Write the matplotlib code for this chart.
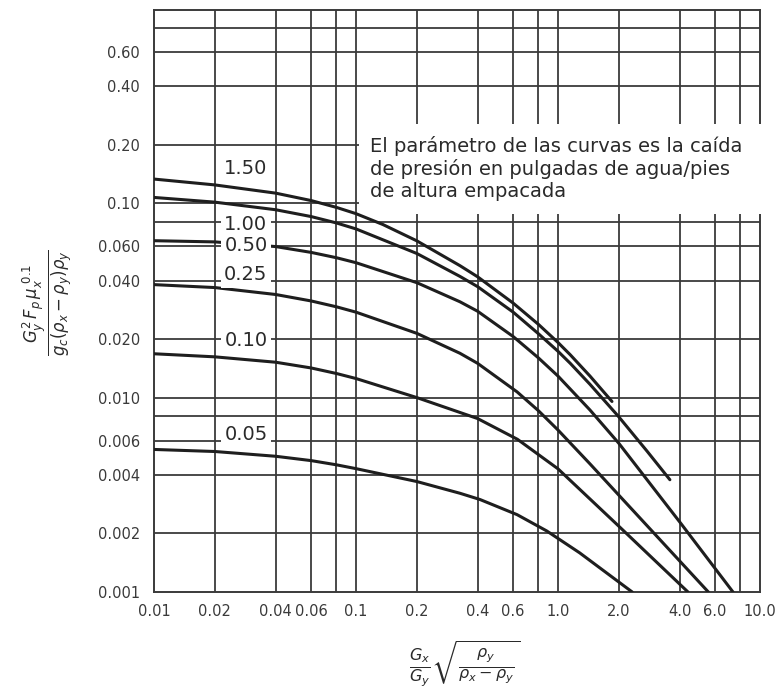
import matplotlib.pyplot as plt
from matplotlib.patches import Rectangle

# axis ticks / grid (log-log chart)
X_TICKS = [0.01, 0.02, 0.04, 0.06, 0.1, 0.2, 0.4, 0.6, 1.0, 2.0, 4.0, 6.0, 10.0]
X_TICK_LABELS = ["0.01", "0.02", "0.04", "0.06", "0.1", "0.2", "0.4", "0.6",
                 "1.0", "2.0", "4.0", "6.0", "10.0"]
X_GRID = [0.02, 0.04, 0.06, 0.08, 0.1, 0.2, 0.4, 0.6, 0.8, 1.0, 2.0, 4.0, 6.0, 8.0]

Y_TICKS = [0.001, 0.002, 0.004, 0.006, 0.01, 0.02, 0.04, 0.06, 0.1, 0.2, 0.4, 0.6]
Y_TICK_LABELS = ["0.001", "0.002", "0.004", "0.006", "0.010", "0.020", "0.040",
                 "0.060", "0.10", "0.20", "0.40", "0.60"]
Y_GRID = [0.002, 0.004, 0.006, 0.008, 0.01, 0.02, 0.04, 0.06, 0.08, 0.1,
          0.2, 0.4, 0.6, 0.8]

# curves (pressure drop, in. water / ft packing)
X_150 = [0.01, 0.02, 0.04, 0.06, 0.08, 0.1, 0.136, 0.2, 0.327, 0.4, 0.6, 0.8,
         1.0, 1.15, 1.44, 1.85]
Y_150 = [0.133, 0.1241, 0.1126, 0.1031, 0.0951, 0.0883, 0.0776, 0.0640,
         0.0477, 0.0418, 0.0306, 0.0238, 0.0192, 0.0166, 0.0129, 0.00955]

X_100 = [0.01, 0.02, 0.04, 0.06, 0.08, 0.1, 0.2, 0.327, 0.4, 0.6, 0.8, 1.0,
         1.15, 1.44, 2.0, 2.76, 3.58]
Y_100 = [0.107, 0.1012, 0.0925, 0.0853, 0.0791, 0.0737, 0.0551, 0.0420,
         0.0372, 0.0275, 0.0213, 0.0173, 0.0150, 0.0117, 0.00796, 0.0053,
         0.00378]

X_050 = [0.01, 0.02, 0.04, 0.06, 0.08, 0.1, 0.2, 0.327, 0.4, 0.6, 0.8, 1.0,
         1.44, 2.0, 4.06, 7.35]
Y_050 = [0.0641, 0.0632, 0.0598, 0.0558, 0.0524, 0.0494, 0.0390, 0.0311,
         0.0278, 0.0206, 0.0160, 0.0129, 0.00863, 0.00582, 0.00225, 0.001]

X_025 = [0.01, 0.02, 0.04, 0.06, 0.08, 0.1, 0.2, 0.327, 0.4, 0.627, 0.8, 1.0,
         1.44, 2.0, 5.55]
Y_025 = [0.0381, 0.0368, 0.0339, 0.0314, 0.0293, 0.0275, 0.0214, 0.0169,
         0.0150, 0.0107, 0.00856, 0.00681, 0.00456, 0.00315, 0.001]

X_010 = [0.01, 0.02, 0.04, 0.06, 0.08, 0.1, 0.2, 0.4, 0.63, 1.0, 2.0, 4.4]
Y_010 = [0.0168, 0.0162, 0.0152, 0.0142, 0.0133, 0.01253, 0.0100, 0.0078,
         0.0061, 0.0043, 0.00218, 0.001]

X_005 = [0.01, 0.02, 0.04, 0.06, 0.08, 0.1, 0.2, 0.327, 0.411, 0.627, 0.88,
         1.28, 2.33]
Y_005 = [0.00541, 0.00528, 0.00499, 0.00474, 0.00451, 0.00431, 0.00370,
         0.00322, 0.00299, 0.00250, 0.00206, 0.00159, 0.001]

CURVE_LABELS = ["1.50", "1.00", "0.50", "0.25", "0.10", "0.05"]
LABEL_X = 0.0285
LABEL_Y = [0.150, 0.0778, 0.0606, 0.0429, 0.0197, 0.00643]

NOTE = ("El parámetro de las curvas es la caída\n"
        "de presión en pulgadas de agua/pies\n"
        "de altura empacada")

plt.rcParams["font.family"] = "DejaVu Sans"

fig = plt.figure(figsize=(7.81, 6.93), dpi=100)
ax = fig.add_axes([154 / 781, 1 - 592 / 693, 606 / 781, 582 / 693])
ax.set_xscale("log")
ax.set_yscale("log")
ax.set_xlim(0.01, 10.0)
ax.set_ylim(0.001, 0.985)

grid_kw = dict(color="#3a3a3a", lw=1.3, zorder=1)
for gx in X_GRID:
    ax.axvline(gx, **grid_kw)
for gy in Y_GRID:
    ax.axhline(gy, **grid_kw)
for sp in ax.spines.values():
    sp.set_color("#3a3a3a")
    sp.set_linewidth(1.4)

# blank area behind the note
ax.add_patch(Rectangle((0.103, 0.0877), 10.4 - 0.103, 0.254 - 0.0877,
                       facecolor="white", edgecolor="none", zorder=2.6,
                       clip_on=False))

curves = [(X_150, Y_150), (X_100, Y_100), (X_050, Y_050),
          (X_025, Y_025), (X_010, Y_010), (X_005, Y_005)]
for xs, ys in curves:
    ax.plot(xs, ys, color="#1e1e1e", lw=2.2, zorder=3,
            solid_capstyle="round", solid_joinstyle="round")

for lab, ly in zip(CURVE_LABELS, LABEL_Y):
    ax.text(LABEL_X, ly, lab, fontsize=14, color="#2a2a2a", ha="center",
            va="center", zorder=5,
            bbox=dict(facecolor="white", edgecolor="none", pad=2.5))

ax.text((370 - 154) / 606, (592 - 136) / 582, NOTE, transform=ax.transAxes,
        fontsize=14, color="#2a2a2a", ha="left", va="top",
        linespacing=1.2, zorder=5)

ax.set_xticks(X_TICKS)
ax.set_xticklabels(X_TICK_LABELS)
ax.set_yticks(Y_TICKS)
ax.set_yticklabels(Y_TICK_LABELS)
ax.minorticks_off()
ax.tick_params(length=0, labelsize=10.5, labelcolor="#3a3a3a")
ax.tick_params(axis="x", pad=9)
ax.tick_params(axis="y", pad=10)

fig.text(465 / 781, 1 - 664 / 693,
         r"$\frac{G_x}{G_y}\sqrt{\frac{\rho_y}{\rho_x-\rho_y}}$",
         fontsize=16.5, color="#2a2a2a", ha="center", va="center")
fig.text(48 / 781, 1 - 303 / 693,
         r"$\frac{G_y^2\,F_p\,\mu_x^{\ 0.1}}{g_c(\rho_x-\rho_y)\rho_y}$",
         fontsize=17, color="#2a2a2a", ha="center", va="center", rotation=90)

fig.savefig("out.png", dpi=100)
